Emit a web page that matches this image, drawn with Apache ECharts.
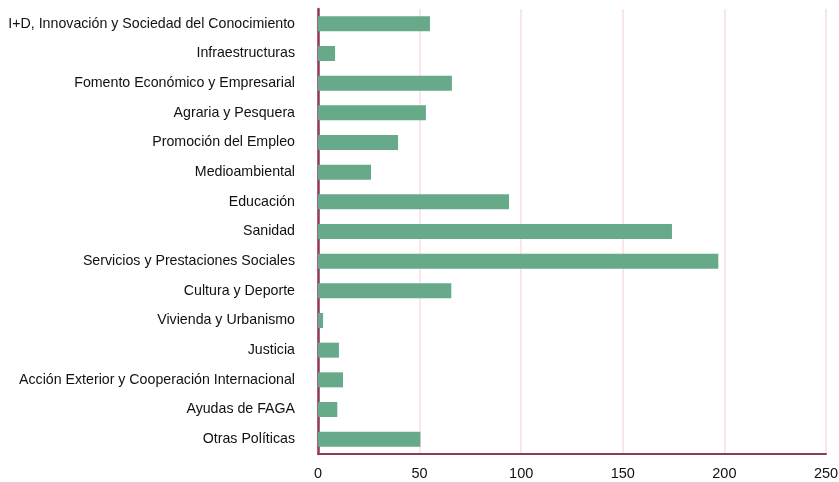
<!DOCTYPE html>
<html>
<head>
<meta charset="utf-8">
<script src="https://cdn.jsdelivr.net/npm/echarts@6/dist/echarts.min.js"></script>
<style>
html,body{margin:0;padding:0;background:#fff;}
#chart{width:839px;height:482px;}
</style>
</head>
<body>
<div id="chart"></div>
<script>
const categories = [
  "I+D, Innovación y Sociedad del Conocimiento",
  "Infraestructuras",
  "Fomento Económico y Empresarial",
  "Agraria y Pesquera",
  "Promoción del Empleo",
  "Medioambiental",
  "Educación",
  "Sanidad",
  "Servicios y Prestaciones Sociales",
  "Cultura y Deporte",
  "Vivienda y Urbanismo",
  "Justicia",
  "Acción Exterior y Cooperación Internacional",
  "Ayudas de FAGA",
  "Otras Políticas"
];
const values = [55.1, 8.4, 65.9, 53.1, 39.4, 26.1, 94, 174.2, 197, 65.6, 2.5, 10.3, 12.3, 9.5, 50.4];
const xTicks = [0, 50, 100, 150, 200, 250];

const chart = echarts.init(document.getElementById('chart'));
const font = "'Liberation Sans', Arial, sans-serif";
chart.setOption({
  animation: false,
  grid: {left: 318, right: 13, top: 9, bottom: 28, containLabel: false, outerBoundsMode: 'none'},
  xAxis: {
    type: 'value',
    min: xTicks[0],
    max: xTicks[xTicks.length - 1],
    interval: 50,
    axisLine: {show: true, lineStyle: {color: '#8e3a59', width: 2}},
    axisTick: {show: false},
    splitLine: {show: true, lineStyle: {color: '#f8dce6', width: 1.5}},
    axisLabel: {color: '#111', fontFamily: font, fontSize: 14.5, margin: 12}
  },
  yAxis: {
    type: 'category',
    inverse: true,
    data: categories,
    axisLine: {show: true, lineStyle: {color: '#8e3a59', width: 2.5}},
    axisTick: {show: false},
    axisLabel: {color: '#111', fontFamily: font, fontSize: 14.2, margin: 23}
  },
  series: [{
    type: 'bar',
    data: values,
    barWidth: 15,
    itemStyle: {color: '#66aa8a'}
  }]
});
</script>
</body>
</html>
